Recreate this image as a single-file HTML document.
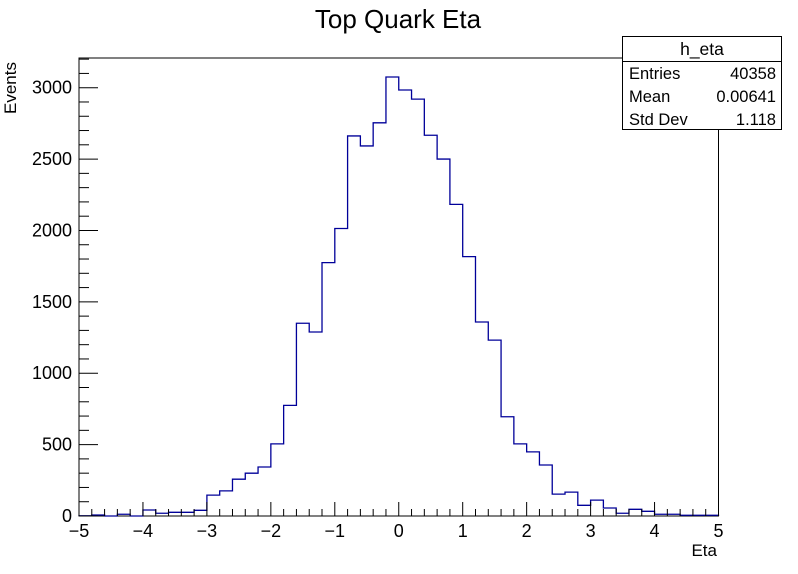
<!DOCTYPE html>
<html><head><meta charset="utf-8"><style>
html,body{margin:0;padding:0;background:#fff;}
svg{display:block;font-family:"Liberation Sans",Arial,sans-serif;}
</style></head><body>
<svg id="c" width="798" height="574" viewBox="0 0 798 574">
<rect width="798" height="574" fill="#fff"/>
<text x="398" y="28" font-size="26" text-anchor="middle">Top Quark Eta</text>
<text x="717" y="556" font-size="17" text-anchor="end">Eta</text>
<text transform="translate(16,114) rotate(-90)" font-size="17" text-anchor="start">Events</text>
<g id="g"></g>
<g>
<rect x="622.5" y="36.5" width="159" height="93" fill="#fff" stroke="#000" stroke-width="1"/>
<line x1="622" y1="61.5" x2="782" y2="61.5" stroke="#000"/>
<text x="702" y="55" font-size="17.5" text-anchor="middle">h_eta</text>
<text x="629" y="79" font-size="16.5">Entries</text>
<text x="776" y="79" font-size="16.5" text-anchor="end">40358</text>
<text x="629" y="102" font-size="16.5">Mean</text>
<text x="776" y="102" font-size="16.5" text-anchor="end">0.00641</text>
<text x="629" y="125" font-size="16.5">Std Dev</text>
<text x="776" y="125" font-size="16.5" text-anchor="end">1.118</text>
</g>
</svg>
<script>
const binEdgesMin = -5, binEdgesMax = 5;
const counts = [2,7,0,12,0,42,19,26,26,40,146,176,258,300,343,505,775,1350,1289,1775,2014,2662,2592,2754,3075,2984,2920,2667,2500,2183,1817,1359,1232,695,505,449,357,153,167,75,111,56,19,47,33,12,12,5,5,5];
const xTicks = [-5,-4,-3,-2,-1,0,1,2,3,4,5];
const yTicks = [0,500,1000,1500,2000,2500,3000];
const yMax = 3200;

const L=79,R=718.5,T=58,B=516;
const ppy=(516-87.7)/3000;
function X(v){return L+(v-binEdgesMin)/(binEdgesMax-binEdgesMin)*(R-L);}
function Y(v){return B-v*ppy;}
const NS="http://www.w3.org/2000/svg";
const g=document.getElementById('g');
function mk(tag,attrs){const e=document.createElementNS(NS,tag);for(const k in attrs)e.setAttribute(k,attrs[k]);g.appendChild(e);return e;}

const fr=mk('rect',{x:L,y:T,width:R-L,height:B-T,fill:'none',stroke:'#000','stroke-width':1});



const n=counts.length, w=(binEdgesMax-binEdgesMin)/n;
let d='M'+X(binEdgesMin)+','+B;
for(let i=0;i<n;i++){const x0=X(binEdgesMin+i*w),x1=X(binEdgesMin+(i+1)*w),y=Y(counts[i]);d+=' L'+x0+','+y+' L'+x1+','+y;}
d+=' L'+X(binEdgesMax)+','+B;
const h=mk('path',{d:d,fill:'none',stroke:'#000099','stroke-width':1.3});



for(let i=0;i<=50;i++){const v=binEdgesMin+i*0.2;const major=i%5===0;const x=X(v);
 const t=mk('line',{x1:x,x2:x,y1:B,y2:B-(major?14:7),stroke:'#000'});
 
 }
xTicks.forEach(v=>{const t=mk('text',{x:X(v),y:537,'font-size':18,'text-anchor':'middle'});t.textContent=(v<0?'\u2212'+(-v):String(v));
 
 });

for(let v=0;v<=yMax;v+=100){const major=v%500===0;const y=Y(v);
 const t=mk('line',{x1:L,x2:L+(major?19:10),y1:y,y2:y,stroke:'#000'});
 
 }
yTicks.forEach(v=>{const t=mk('text',{x:72,y:Y(v)+6,'font-size':18,'text-anchor':'end'});t.textContent=String(v);
 
 });
</script>
</body></html>
